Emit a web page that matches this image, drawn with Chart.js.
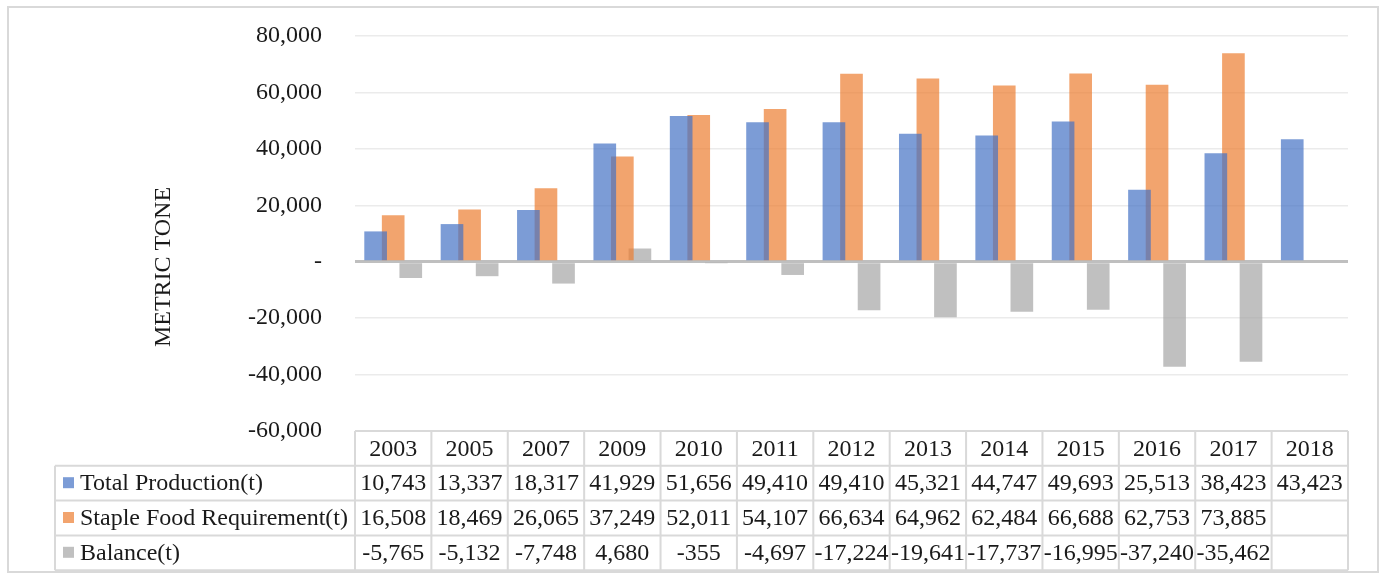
<!DOCTYPE html>
<html>
<head>
<meta charset="utf-8">
<script src="https://cdn.jsdelivr.net/npm/chart.js@4"></script>
<style>
  html, body { margin: 0; padding: 0; background: #fff; }
  #wrap { width: 1385px; height: 579px; }
</style>
</head>
<body>
<div id="wrap"><canvas id="chart"></canvas></div>
<script>
/* ===============================
   DATA
================================= */
const years = ["2003", "2005", "2007", "2009", "2010", "2011", "2012", "2013", "2014", "2015", "2016", "2017", "2018"];
const totalProduction = [10743, 13337, 18317, 41929, 51656, 49410, 49410, 45321, 44747, 49693, 25513, 38423, 43423];
const stapleFood = [16508, 18469, 26065, 37249, 52011, 54107, 66634, 64962, 62484, 66688, 62753, 73885, null];
const balance = [-5765, -5132, -7748, 4680, -355, -4697, -17224, -19641, -17737, -16995, -37240, -35462, null];
const seriesNames = ["Total Production(t)", "Staple Food Requirement(t)", "Balance(t)"];
const yMin = -60000;
const yMax = 80000;
const yStep = 20000;
const axisTitle = "METRIC TONE";

/* ===============================
   STYLE
================================= */
const FONT = "'Liberation Serif', 'Times New Roman', serif";
const TEXT = "#1a1a1a";
const LINE = "#d9d9d9";
const colors = ["rgba(68,114,196,0.7)", "rgba(237,125,49,0.7)", "rgba(165,165,165,0.7)"];

/* ===============================
   HELPERS
================================= */
function fmt(v) {
  if (v === null || v === undefined) return "";
  return v.toLocaleString("en-US");
}

/* ===============================
   DATA TABLE + FRAME PLUGIN
================================= */
const tablePlugin = {
  id: "dataTable",
  beforeDraw(chart) {
    const ctx = chart.ctx;
    ctx.save();
    ctx.strokeStyle = LINE;
    ctx.lineWidth = 2;
    ctx.strokeRect(8, 7, 1370, 565);
    ctx.restore();
  },
  afterDraw(chart) {
    const ctx = chart.ctx;
    const xs = chart.scales.x;
    const area = chart.chartArea;
    const n = years.length;
    const colW = (area.right - area.left) / n;
    const top = area.bottom;
    const rowH = 34.8;
    const labelLeft = 55;
    const rows = [totalProduction, stapleFood, balance];

    ctx.save();
    ctx.strokeStyle = LINE;
    ctx.lineWidth = 2;
    ctx.beginPath();
    // header row top
    ctx.moveTo(area.left, top);
    ctx.lineTo(area.right, top);
    for (let r = 1; r <= 4; r++) {
      ctx.moveTo(labelLeft, top + r * rowH);
      ctx.lineTo(area.right, top + r * rowH);
    }
    for (let k = 0; k <= n; k++) {
      const x = area.left + k * colW;
      ctx.moveTo(x, top);
      ctx.lineTo(x, top + 4 * rowH);
    }
    ctx.moveTo(labelLeft, top + rowH);
    ctx.lineTo(labelLeft, top + 4 * rowH);
    ctx.stroke();

    ctx.fillStyle = TEXT;
    ctx.font = "24px " + FONT;
    ctx.textBaseline = "middle";
    ctx.textAlign = "center";
    years.forEach((y, i) => {
      ctx.fillText(y, xs.getPixelForValue(i), top + rowH / 2 + 1);
    });
    rows.forEach((vals, r) => {
      const cy = top + (r + 1.5) * rowH + 1;
      vals.forEach((v, i) => {
        ctx.fillText(fmt(v), xs.getPixelForValue(i), cy);
      });
    });

    ctx.textAlign = "left";
    seriesNames.forEach((name, r) => {
      const cy = top + (r + 1.5) * rowH;
      ctx.fillStyle = colors[r];
      ctx.fillRect(63, cy - 6, 11, 11);
      ctx.fillStyle = TEXT;
      ctx.fillText(name, 80, cy + 1);
    });

    // axis title
    ctx.translate(164, 267);
    ctx.rotate(-Math.PI / 2);
    ctx.textAlign = "center";
    ctx.fillText(axisTitle, 0, 0);
    ctx.restore();
  }
};

/* ===============================
   CHART
================================= */
const chart = new Chart(document.getElementById("chart"), {
  type: "bar",
  data: {
    labels: years,
    datasets: seriesNames.map((name, i) => ({
      label: name,
      data: [totalProduction, stapleFood, balance][i],
      backgroundColor: colors[i],
      borderWidth: 0,
      categoryPercentage: 0.69,
      barPercentage: 1.29,
    })),
  },
  options: {
    responsive: true,
    maintainAspectRatio: false,
    animation: false,
    layout: { padding: { left: 0, right: 37, top: 36, bottom: 148 } },
    plugins: {
      legend: { display: false },
      tooltip: { enabled: false },
    },
    scales: {
      x: { display: false },
      y: {
        min: yMin,
        max: yMax,
        afterFit(scale) {
          scale.width = 355;
          scale.paddingTop = 0;
          scale.paddingBottom = 0;
        },
        border: { display: false },
        grid: {
          drawTicks: false,
          color: ctx => ctx.tick && ctx.tick.value === 0 ? "#bfbfbf" : "#ebebeb",
          lineWidth: ctx => ctx.tick && ctx.tick.value === 0 ? 3 : 1.5,
        },
        ticks: {
          stepSize: yStep,
          padding: 33,
          color: TEXT,
          font: { family: FONT, size: 24 },
          callback: v => v === 0 ? "-" : v.toLocaleString("en-US"),
        },
      },
    },
  },
  plugins: [tablePlugin],
});
</script>
</body>
</html>
